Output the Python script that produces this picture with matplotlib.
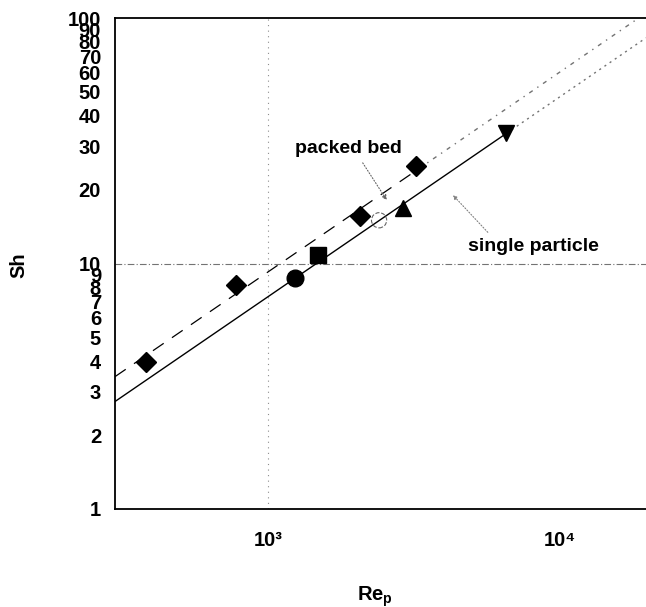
import matplotlib.pyplot as plt
import numpy as np

plt.rcParams['font.family'] = ['Liberation Sans', 'DejaVu Sans']
plt.rcParams['font.weight'] = 'bold'
plt.rcParams['mathtext.fontset'] = 'custom'
plt.rcParams['mathtext.rm'] = 'Liberation Sans:bold'
plt.rcParams['mathtext.it'] = 'Liberation Sans:bold'
plt.rcParams['mathtext.bf'] = 'Liberation Sans:bold'

# data points (Re_p, Sh)
diamond_re = [382, 776, 2076, 3206]
diamond_sh = [3.98, 8.17, 15.6, 24.9]
circle_re = [1244]
circle_sh = [8.7]
square_re = [1486]
square_sh = [10.8]
tri_up_re = [2905]
tri_up_sh = [16.9]
tri_down_re = [6560]
tri_down_sh = [33.9]
open_circle_re = [2404]
open_circle_sh = [15.0]

# correlation lines (end points)
single_re = [300, 6560]
single_sh = [2.74, 33.9]
single_ext_re = [6560, 19700]
single_ext_sh = [33.9, 83]
packed_re = [300, 3300]
packed_sh = [3.46, 24.4]
packed_ext_re = [3300, 18600]
packed_ext_sh = [24.4, 100]

ytick_vals = [1, 2, 3, 4, 5, 6, 7, 8, 9, 10, 20, 30, 40, 50, 60, 70, 80, 90, 100]
xtick_vals = [1e3, 1e4]
xtick_labels = ['10\u00b3', '10\u2074']

fig = plt.figure(figsize=(6.46, 6.07), dpi=100)
ax = fig.add_axes([115/646, 98/607, 531/646, 491/607])
ax.set_xscale('log')
ax.set_yscale('log')
ax.set_xlim(300, 19700)
ax.set_ylim(1, 100)

# faint grid lines
ax.axhline(10, color='0.45', lw=0.8, ls=(0, (6, 2, 1, 2)), zorder=1)
ax.axvline(1000, color='0.55', lw=0.8, ls=(0, (1, 4)), zorder=1)

# lines
ax.plot(single_re, single_sh, color='black', lw=1.0, zorder=2)
ax.plot(single_ext_re, single_ext_sh, color='0.45', lw=1.0, ls=(0, (1.5, 3)), zorder=2)
ax.plot(packed_re, packed_sh, color='black', lw=0.9, dashes=(10.4, 8), zorder=2)
ax.plot(packed_ext_re, packed_ext_sh, color='0.45', lw=1.0, ls=(0, (3, 4, 1, 4)), zorder=2)

# markers
ax.plot(diamond_re, diamond_sh, 'kD', ms=10, ls='none', zorder=3)
ax.plot(circle_re, circle_sh, 'ko', ms=12, ls='none', zorder=3)
ax.plot(square_re, square_sh, 'ks', ms=11.8, ls='none', zorder=3)
ax.plot(tri_up_re, tri_up_sh, 'k^', ms=11.5, ls='none', zorder=3)
ax.plot(tri_down_re, tri_down_sh, 'kv', ms=11.5, ls='none', zorder=3)
ax.scatter(open_circle_re, open_circle_sh, s=120, facecolors='none',
           edgecolors='0.4', linewidths=0.8, linestyles='--', zorder=3)

# annotations
ax.text(1892, 29.3, 'packed bed', fontsize=14, ha='center', va='center')
ax.annotate('', xy=(2556, 18.1), xytext=(2113, 25.7),
            arrowprops=dict(arrowstyle='-|>', color='0.4', lw=0.8, ls=':',
                            mutation_scale=7, shrinkA=0, shrinkB=0))
ax.text(8082, 11.7, 'single particle', fontsize=14, ha='center', va='center')
ax.annotate('', xy=(4301, 19.0), xytext=(5662, 13.4),
            arrowprops=dict(arrowstyle='-|>', color='0.5', lw=0.8, ls=':',
                            mutation_scale=6, shrinkA=0, shrinkB=0))

# axes styling
ax.spines['right'].set_visible(False)
for s in ['left', 'top', 'bottom']:
    ax.spines[s].set_linewidth(1.3)
ax.set_yticks(ytick_vals)
ax.set_yticklabels([str(v) for v in ytick_vals])
ax.yaxis.set_minor_locator(plt.NullLocator())
ax.set_xticks(xtick_vals)
ax.set_xticklabels(xtick_labels)
ax.xaxis.set_minor_locator(plt.NullLocator())
ax.tick_params(axis='y', length=0, pad=10, labelsize=14.5)
ax.tick_params(axis='x', length=0, pad=16, labelsize=14.5)

fig.text(19/646, 1 - 265/607, 'Sh', rotation=90, ha='center', va='center', fontsize=14.5)
fig.text(375/646, 6/607, 'Re$_\\mathregular{p}$', ha='center', va='baseline', fontsize=14.5)

fig.savefig('out.png', dpi=100)
